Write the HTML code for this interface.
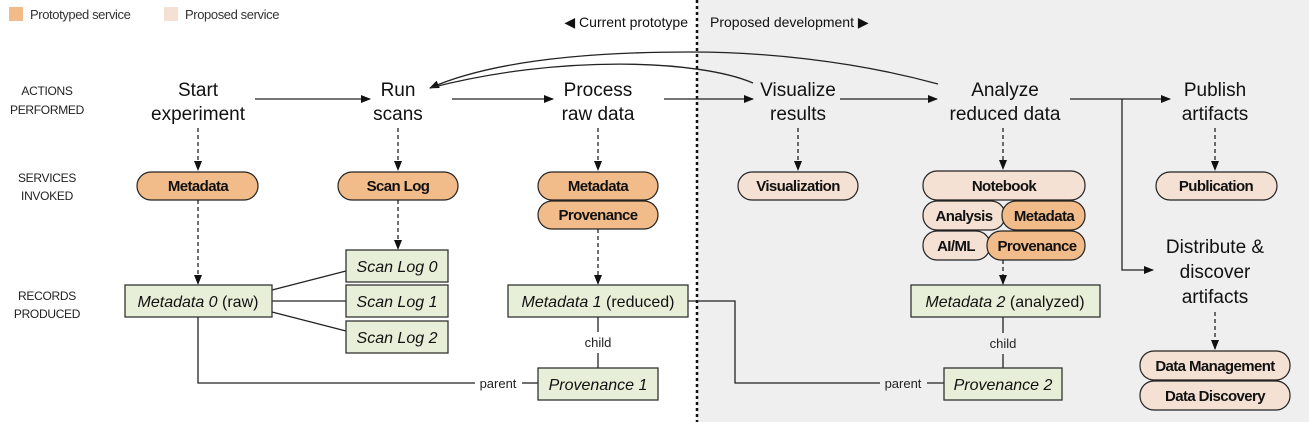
<!DOCTYPE html>
<html><head><meta charset="utf-8"><style>
html,body{margin:0;padding:0;background:#fff;}
svg{display:block;}
text{font-family:"Liberation Sans",sans-serif;fill:#111;}
.act{font-size:19px;text-anchor:middle;}
.lab{font-size:12px;text-anchor:middle;fill:#222;letter-spacing:-0.3px;}
.pill{font-family:"Liberation Sans Narrow","Liberation Sans",sans-serif;font-weight:bold;font-size:15px;text-anchor:middle;letter-spacing:-0.6px;}
.rec{font-size:16px;text-anchor:middle;}
.sm{font-size:13px;text-anchor:middle;fill:#222;}
.po{fill:#f2bb8a;stroke:#222;stroke-width:1.2;}
.pl{fill:#f5e1d3;stroke:#222;stroke-width:1.2;}
.rb{fill:#e8efd8;stroke:#333;stroke-width:1.3;}
.ln{stroke:#222;stroke-width:1.3;fill:none;}
.ds{stroke:#222;stroke-width:1.3;fill:none;stroke-dasharray:4,3;}
</style></head><body>
<svg width="1309" height="422" viewBox="0 0 1309 422" xmlns="http://www.w3.org/2000/svg">
<defs>
<marker id="a" markerWidth="10" markerHeight="8" refX="9" refY="4" orient="auto" markerUnits="userSpaceOnUse"><path d="M0,0 L10,4 L0,8 z" fill="#111"/></marker>
</defs>
<rect x="697" y="0" width="612" height="422" fill="#efefef"/>
<line x1="697" y1="0" x2="697" y2="422" stroke="#111" stroke-width="2.5" stroke-dasharray="3,3"/>

<rect x="9" y="7" width="14" height="14" fill="#f2bb8a"/>
<text x="30" y="19" style="font-size:13px;fill:#333;letter-spacing:-0.4px">Prototyped service</text>
<rect x="164" y="7" width="14" height="14" fill="#f5e1d3"/>
<text x="185" y="19" style="font-size:13px;fill:#333;letter-spacing:-0.4px">Proposed service</text>
<text x="688" y="27" style="font-size:14px;text-anchor:end">◀ Current prototype</text>
<text x="710" y="27" style="font-size:14px">Proposed development ▶</text>

<text class="lab" x="47" y="95">ACTIONS</text><text class="lab" x="47" y="114">PERFORMED</text>
<text class="lab" x="47" y="182">SERVICES</text><text class="lab" x="47" y="200">INVOKED</text>
<text class="lab" x="47" y="300">RECORDS</text><text class="lab" x="47" y="318">PRODUCED</text>

<text class="act" x="198" y="96">Start</text><text class="act" x="198" y="120">experiment</text>
<text class="act" x="398" y="96">Run</text><text class="act" x="398" y="120">scans</text>
<text class="act" x="598" y="96">Process</text><text class="act" x="598" y="120">raw data</text>
<text class="act" x="798" y="96">Visualize</text><text class="act" x="798" y="120">results</text>
<text class="act" x="1005" y="96">Analyze</text><text class="act" x="1005" y="120">reduced data</text>
<text class="act" x="1215" y="96">Publish</text><text class="act" x="1215" y="120">artifacts</text>
<text class="act" x="1215" y="253">Distribute &amp;</text><text class="act" x="1215" y="278">discover</text><text class="act" x="1215" y="303">artifacts</text>

<line class="ln" x1="255" y1="99" x2="370" y2="99" marker-end="url(#a)"/>
<line class="ln" x1="452" y1="99" x2="553" y2="99" marker-end="url(#a)"/>
<line class="ln" x1="664" y1="99" x2="753" y2="99" marker-end="url(#a)"/>
<line class="ln" x1="840" y1="99" x2="937" y2="99" marker-end="url(#a)"/>
<line class="ln" x1="1070" y1="99" x2="1170" y2="99" marker-end="url(#a)"/>
<polyline class="ln" points="1122,99 1122,270 1153,270" marker-end="url(#a)"/>
<path class="ln" d="M938,84 C850,60 760,52 690,52 C560,52 480,66 430,88" marker-end="url(#a)"/>
<path class="ln" d="M753,83 C700,60 560,54 430,88"/>

<line class="ds" x1="198" y1="128" x2="198" y2="170" marker-end="url(#a)"/>
<line class="ds" x1="398" y1="128" x2="398" y2="170" marker-end="url(#a)"/>
<line class="ds" x1="598" y1="128" x2="598" y2="170" marker-end="url(#a)"/>
<line class="ds" x1="798" y1="128" x2="798" y2="170" marker-end="url(#a)"/>
<line class="ds" x1="1003" y1="128" x2="1003" y2="169" marker-end="url(#a)"/>
<line class="ds" x1="1215" y1="128" x2="1215" y2="170" marker-end="url(#a)"/>
<line class="ds" x1="1215" y1="312" x2="1215" y2="349" marker-end="url(#a)"/>
<line class="ds" x1="198" y1="200" x2="198" y2="284" marker-end="url(#a)"/>
<line class="ds" x1="398" y1="200" x2="398" y2="249" marker-end="url(#a)"/>
<line class="ds" x1="598" y1="229" x2="598" y2="284" marker-end="url(#a)"/>
<line class="ds" x1="1003" y1="260" x2="1003" y2="284" marker-end="url(#a)"/>

<rect class="po" x="137" y="172" width="121" height="28" rx="14"/><text class="pill" x="198" y="191">Metadata</text>
<rect class="po" x="338" y="172" width="120" height="28" rx="14"/><text class="pill" x="398" y="191">Scan Log</text>
<rect class="po" x="538" y="172" width="120" height="28" rx="14"/><text class="pill" x="598" y="191">Metadata</text>
<rect class="po" x="538" y="201" width="120" height="28" rx="14"/><text class="pill" x="598" y="220">Provenance</text>
<rect class="pl" x="738" y="172" width="120" height="28" rx="14"/><text class="pill" x="798" y="191">Visualization</text>
<rect class="pl" x="923" y="171" width="162" height="29" rx="14"/><text class="pill" x="1004" y="191">Notebook</text>
<rect class="pl" x="923" y="201" width="82" height="29" rx="14"/><text class="pill" x="964" y="221">Analysis</text>
<rect class="po" x="1002" y="201" width="83" height="29" rx="14"/><text class="pill" x="1044" y="221">Metadata</text>
<rect class="pl" x="923" y="231" width="67" height="29" rx="14"/><text class="pill" x="956" y="251">AI/ML</text>
<rect class="po" x="987" y="231" width="98" height="29" rx="14"/><text class="pill" x="1037" y="251">Provenance</text>
<rect class="pl" x="1156" y="172" width="121" height="28" rx="14"/><text class="pill" x="1216" y="191">Publication</text>
<rect class="pl" x="1140" y="351" width="150" height="29" rx="14"/><text class="pill" x="1215" y="371">Data Management</text>
<rect class="pl" x="1140" y="381" width="150" height="29" rx="14"/><text class="pill" x="1215" y="401">Data Discovery</text>

<line class="ln" x1="272" y1="290" x2="346" y2="271"/>
<line class="ln" x1="272" y1="301" x2="346" y2="301"/>
<line class="ln" x1="272" y1="312" x2="346" y2="331"/>
<polyline class="ln" points="198,317 198,383 475,383"/>
<line class="ln" x1="522" y1="383" x2="538" y2="383"/>
<text class="sm" x="498" y="388">parent</text>
<line class="ln" x1="598" y1="317" x2="598" y2="332"/>
<text class="sm" x="598" y="347">child</text>
<line class="ln" x1="598" y1="353" x2="598" y2="368"/>
<polyline class="ln" points="688,301 735,301 735,383 880,383"/>
<line class="ln" x1="927" y1="383" x2="944" y2="383"/>
<text class="sm" x="903" y="388">parent</text>
<line class="ln" x1="1003" y1="317" x2="1003" y2="333"/>
<text class="sm" x="1003" y="348">child</text>
<line class="ln" x1="1003" y1="354" x2="1003" y2="368"/>

<rect class="rb" x="125" y="285" width="147" height="32"/><text class="rec" x="198" y="307"><tspan font-style="italic">Metadata 0</tspan> (raw)</text>
<rect class="rb" x="346" y="250" width="102" height="32"/><text class="rec" x="397" y="272" font-style="italic">Scan Log 0</text>
<rect class="rb" x="346" y="285" width="102" height="32"/><text class="rec" x="397" y="307" font-style="italic">Scan Log 1</text>
<rect class="rb" x="346" y="321" width="102" height="32"/><text class="rec" x="397" y="343" font-style="italic">Scan Log 2</text>
<rect class="rb" x="508" y="285" width="180" height="32"/><text class="rec" x="598" y="307"><tspan font-style="italic">Metadata 1</tspan> (reduced)</text>
<rect class="rb" x="538" y="368" width="120" height="32"/><text class="rec" x="598" y="390" font-style="italic">Provenance 1</text>
<rect class="rb" x="911" y="285" width="189" height="32"/><text class="rec" x="1005" y="307"><tspan font-style="italic">Metadata 2</tspan> (analyzed)</text>
<rect class="rb" x="944" y="368" width="118" height="32"/><text class="rec" x="1003" y="390" font-style="italic">Provenance 2</text>
</svg>
</body></html>
